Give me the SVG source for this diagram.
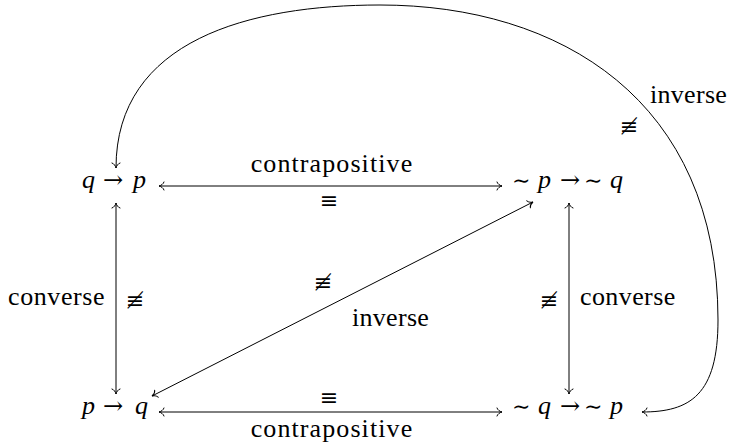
<svg xmlns="http://www.w3.org/2000/svg" width="731" height="448" viewBox="0 0 731 448">
<defs>
  <marker id="to" markerUnits="userSpaceOnUse" orient="auto-start-reverse" overflow="visible" refX="0" refY="0" markerWidth="10" markerHeight="10">
    <path d="M -5,-4 C -4.5,-2 -2,-0.5 0,0 C -2,0.5 -4.5,2 -5,4" fill="none" stroke="#000" stroke-width="1" stroke-linecap="round"/>
  </marker>
</defs>
<g id="connectors" fill="none" stroke="#000" stroke-width="1" marker-start="url(#to)" marker-end="url(#to)">
  <line x1="159" y1="186" x2="502" y2="186"/>
  <line x1="159" y1="412" x2="502" y2="412"/>
  <line x1="116" y1="203" x2="116" y2="394"/>
  <line x1="569" y1="203" x2="569" y2="394"/>
  <line x1="152" y1="396" x2="533" y2="202"/>
  <path d="M116,168 C116,40 250,5 380,5 C560,5 718,100 718,320 C718,395 690,412 642,412"/>
</g>
<g id="labels" fill="#000">
  <text x="332" y="172" text-anchor="middle" font-family="'Liberation Serif', serif" font-size="26" letter-spacing="1.1">contrapositive</text>
  <text x="329" y="208" text-anchor="middle" font-family="'DejaVu Serif', serif" font-size="22">≡</text>
  <text x="329" y="405" text-anchor="middle" font-family="'DejaVu Serif', serif" font-size="22">≡</text>
  <text x="332" y="437" text-anchor="middle" font-family="'Liberation Serif', serif" font-size="26" letter-spacing="1.1">contrapositive</text>
  <text x="8" y="305" font-family="'Liberation Serif', serif" font-size="26" letter-spacing="0.6">converse</text>
  <text x="135" y="308" text-anchor="middle" font-family="'DejaVu Serif', serif" font-size="22">≢</text>
  <text x="549" y="308" text-anchor="middle" font-family="'DejaVu Serif', serif" font-size="22">≢</text>
  <text x="580" y="305" font-family="'Liberation Serif', serif" font-size="26" letter-spacing="0.4">converse</text>
  <text x="323" y="290" text-anchor="middle" font-family="'DejaVu Serif', serif" font-size="22">≢</text>
  <text x="352" y="326" font-family="'Liberation Serif', serif" font-size="26" letter-spacing="0.3">inverse</text>
  <text x="629" y="134" text-anchor="middle" font-family="'DejaVu Serif', serif" font-size="22">≢</text>
  <text x="650" y="103" font-family="'Liberation Serif', serif" font-size="26" letter-spacing="0.3">inverse</text>
</g>
<g id="n-q-to-p" fill="#000">
  <text x="82" y="188" font-family="'Liberation Serif', serif" font-size="26" font-style="italic">q</text>
  <text x="103" y="188" font-family="'DejaVu Serif', serif" font-size="24">→</text>
  <text x="133" y="188" font-family="'Liberation Serif', serif" font-size="26" font-style="italic">p</text>
</g>
<g id="n-notp-to-notq" fill="#000">
  <text x="512" y="188" font-family="'DejaVu Serif', serif" font-size="22">∼</text>
  <text x="538" y="188" font-family="'Liberation Serif', serif" font-size="26" font-style="italic">p</text>
  <text x="560" y="188" font-family="'DejaVu Serif', serif" font-size="24">→</text>
  <text x="584" y="188" font-family="'DejaVu Serif', serif" font-size="22">∼</text>
  <text x="610" y="188" font-family="'Liberation Serif', serif" font-size="26" font-style="italic">q</text>
</g>
<g id="n-p-to-q" fill="#000">
  <text x="82" y="414" font-family="'Liberation Serif', serif" font-size="26" font-style="italic">p</text>
  <text x="103" y="414" font-family="'DejaVu Serif', serif" font-size="24">→</text>
  <text x="135" y="414" font-family="'Liberation Serif', serif" font-size="26" font-style="italic">q</text>
</g>
<g id="n-notq-to-notp" fill="#000">
  <text x="512" y="414" font-family="'DejaVu Serif', serif" font-size="22">∼</text>
  <text x="538" y="414" font-family="'Liberation Serif', serif" font-size="26" font-style="italic">q</text>
  <text x="560" y="414" font-family="'DejaVu Serif', serif" font-size="24">→</text>
  <text x="584" y="414" font-family="'DejaVu Serif', serif" font-size="22">∼</text>
  <text x="610" y="414" font-family="'Liberation Serif', serif" font-size="26" font-style="italic">p</text>
</g>
</svg>
